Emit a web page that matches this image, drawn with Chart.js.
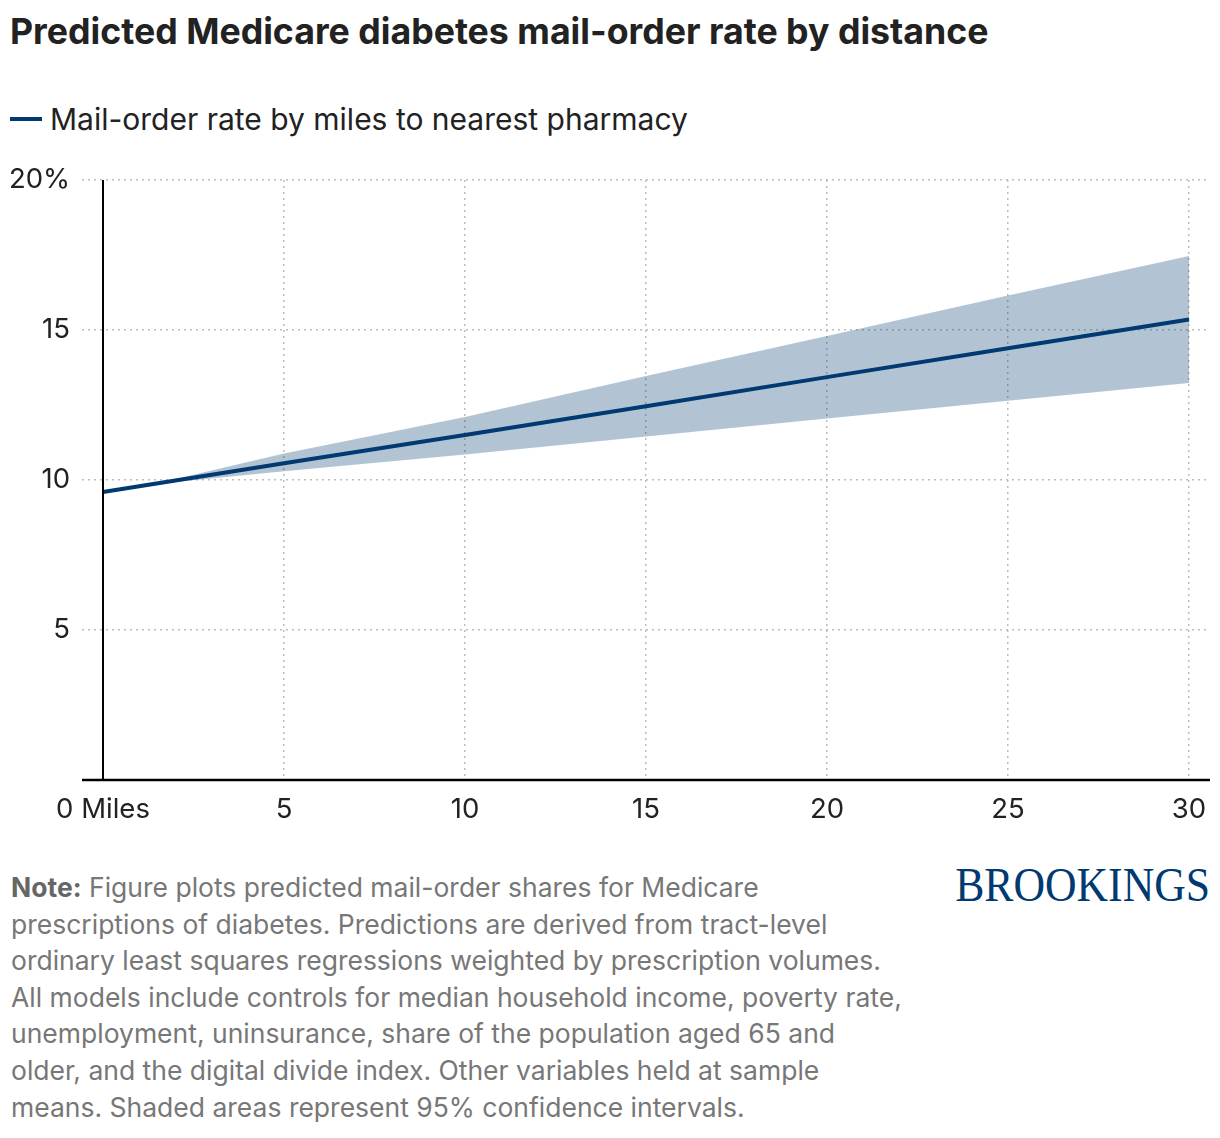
<!DOCTYPE html>
<html>
<head>
<meta charset="utf-8">
<script src="https://cdn.jsdelivr.net/npm/chart.js@4"></script>
<style>
  body { margin: 0; width: 1220px; height: 1138px; background: #fff; font-family: Inter, "Noto Sans", sans-serif; position: relative; overflow: hidden; }
  .title { position: absolute; left: 10px; top: 14px; font-size: 35.7px; line-height: 35.7px; font-weight: 700; color: #222; white-space: nowrap; }
  .legend { position: absolute; left: 10px; top: 104px; font-size: 30px; line-height: 30px; color: #222; white-space: nowrap; }
  .legend .swatch { display: inline-block; width: 32px; height: 4px; background: #003a70; vertical-align: middle; margin-right: 8px; position: relative; top: -3px; }
  #chartBox { position: absolute; left: 0; top: 150px; width: 1220px; height: 690px; }
  .note { position: absolute; left: 11px; top: 869px; font-size: 26.5px; line-height: 36.6px; color: #777; white-space: nowrap; }
  .note b { color: #666; }
  .logo { position: absolute; right: 10px; top: 857px; font-family: "Liberation Serif", "DejaVu Serif", serif; font-size: 48px; line-height: 56px; color: #003a70; transform: scaleX(0.91); transform-origin: right center; white-space: nowrap; }
</style>
</head>
<body>
<div class="title">Predicted Medicare diabetes mail-order rate by distance</div>
<div class="legend"><span class="swatch"></span>Mail-order rate by miles to nearest pharmacy</div>
<div id="chartBox"><canvas id="rateChart"></canvas></div>
<div class="note"><b>Note:</b> Figure plots predicted mail-order shares for Medicare<br>prescriptions of diabetes. Predictions are derived from tract-level<br>ordinary least squares regressions weighted by prescription volumes.<br>All models include controls for median household income, poverty rate,<br>unemployment, uninsurance, share of the population aged 65 and<br>older, and the digital divide index. Other variables held at sample<br>means. Shaded areas represent 95% confidence intervals.</div>
<div class="logo">BROOKINGS</div>

<script>
// values (percent)
const miles = [0, 2, 5, 10, 15, 20, 25, 30];
const mailOrderRate = [9.6, 9.98, 10.56, 11.5, 12.46, 13.43, 14.39, 15.35];
const upperCI = [9.65, 10.03, 10.88, 12.1, 13.47, 14.8, 16.15, 17.47];
const lowerCI = [9.55, 9.93, 10.29, 10.85, 11.45, 12.05, 12.64, 13.23];

const navy = '#003a70';
const gridGray = '#bdbdbd';

function toPoints(ys) {
    return miles.map((m, i) => ({ x: m, y: ys[i] }));
}

// solid black axis lines at x = 0 and y = 0
const axisLines = {
    id: 'axisLines',
    afterDatasetsDraw(chart) {
        const { ctx, chartArea, scales } = chart;
        const x0 = scales.x.getPixelForValue(0);
        const y0 = scales.y.getPixelForValue(0);
        ctx.save();
        ctx.strokeStyle = '#000';
        ctx.lineWidth = 2;
        ctx.beginPath();
        ctx.moveTo(x0, chartArea.top);
        ctx.lineTo(x0, y0);
        ctx.stroke();
        ctx.lineWidth = 2.5;
        ctx.beginPath();
        ctx.moveTo(chartArea.left, y0);
        ctx.lineTo(chartArea.right, y0);
        ctx.stroke();
        ctx.restore();
    }
};

document.addEventListener('DOMContentLoaded', function() {
    const ctx = document.getElementById('rateChart').getContext('2d');
    new Chart(ctx, {
        type: 'line',
        data: {
            datasets: [
                {
                    label: 'Mail-order rate by miles to nearest pharmacy',
                    data: toPoints(mailOrderRate),
                    borderColor: navy,
                    borderWidth: 4,
                    pointRadius: 0,
                    tension: 0,
                    fill: false,
                    order: 0
                },
                {
                    label: 'upper',
                    data: toPoints(upperCI),
                    borderWidth: 0,
                    borderColor: 'transparent',
                    backgroundColor: 'rgba(0, 58, 112, 0.3)',
                    pointRadius: 0,
                    tension: 0,
                    fill: '+1',
                    order: 1
                },
                {
                    label: 'lower',
                    data: toPoints(lowerCI),
                    borderWidth: 0,
                    borderColor: 'transparent',
                    pointRadius: 0,
                    tension: 0,
                    fill: false,
                    order: 1
                }
            ]
        },
        options: {
            responsive: true,
            maintainAspectRatio: false,
            animation: false,
            layout: { padding: { top: 30, right: 10, bottom: 0, left: 0 } },
            plugins: {
                legend: { display: false },
                tooltip: { enabled: false }
            },
            scales: {
                x: {
                    type: 'linear',
                    min: -0.58,
                    max: 30.58,
                    afterFit: s => { s.height = 60; },
                    ticks: {
                        stepSize: 5,
                        includeBounds: false,
                        padding: 13,
                        maxRotation: 0,
                        color: '#222',
                        font: { family: 'Inter', size: 27.5 },
                        callback: v => v === 0 ? '0 Miles' : String(v)
                    },
                    grid: {
                        drawTicks: false,
                        lineWidth: 1.5,
                        color: c => (c.tick && c.tick.value === 0) ? 'transparent' : gridGray
                    },
                    border: { display: false, dash: [2, 4] }
                },
                y: {
                    min: 0,
                    max: 20,
                    afterFit: s => { s.width = 82; },
                    ticks: {
                        stepSize: 5,
                        padding: 12,
                        color: '#222',
                        font: { family: 'Inter', size: 27.5 },
                        callback: v => v === 20 ? '20%' : (v === 0 ? '' : String(v))
                    },
                    grid: {
                        drawTicks: false,
                        lineWidth: 1.5,
                        color: c => (c.tick && c.tick.value === 0) ? 'transparent' : gridGray
                    },
                    border: { display: false, dash: [2, 4] }
                }
            }
        },
        plugins: [axisLines]
    });
});
</script>
</body>
</html>
